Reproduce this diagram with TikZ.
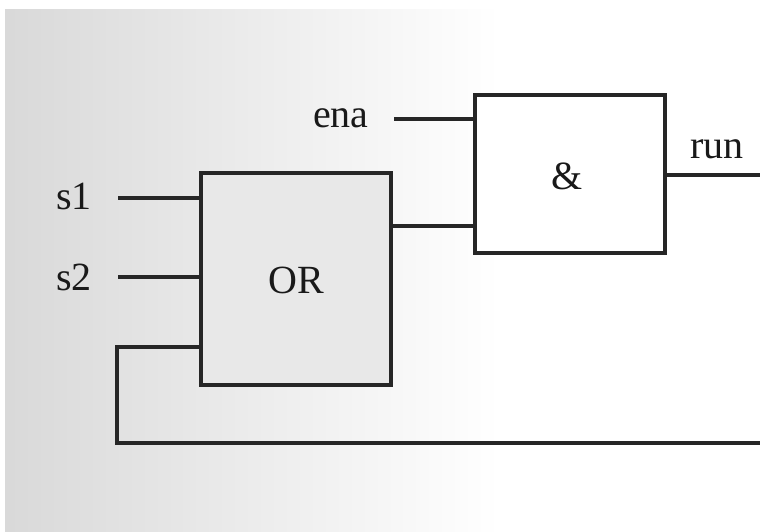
\documentclass[tikz,border=0pt]{standalone}
\usepackage{fontspec}
\setmainfont{Liberation Serif}
\begin{document}
\begin{tikzpicture}[x=1pt,y=-1pt,
  wire/.style={line width=4.2pt,draw=black!85},
  gate/.style={draw=black!85,line width=4.2pt,minimum width=190pt,inner sep=0pt},
  lbl/.style={font=\fontsize{40}{48}\selectfont,inner sep=0pt,text=black!90}]
\useasboundingbox (0,0) rectangle (760,532);
\fill[white] (0,0) rectangle (760,532);
\shade[left color=black!15,right color=white] (5,10) rectangle (500,532);
% gates
\node[gate,fill=black!9,minimum height=212pt,anchor=north west] (or) at (199,171) {};
\node[lbl] at (296,280) {OR};
\node[gate,fill=white,minimum height=158pt,anchor=north west] (and) at (473,93) {};
\node[lbl] at (567,176) {\&};
% labels
\node[lbl,anchor=base west] (s1) at (56,209) {s1};
\node[lbl,anchor=base west] (s2) at (56,290) {s2};
\node[lbl,anchor=base west] (ena) at (313,128) {ena};
\node[lbl,anchor=base west] (run) at (690,158) {run};
% coordinates
\coordinate (s1e) at (118,198);
\coordinate (s2e) at (118,277);
\coordinate (enae) at (394,119);
\coordinate (oro) at (300,226);
\coordinate (rune) at (762,175);
\coordinate (fbr) at (762,443);
\coordinate (fbl) at (117,443);
\coordinate (fbt) at (117,347);
% wires
\draw[wire] (s1e) -- (s1e -| or.west);
\draw[wire] (s2e) -- (s2e -| or.west);
\draw[wire] (enae) -- (enae -| and.west);
\draw[wire] (oro -| or.east) -- (oro -| and.west);
\draw[wire] (rune -| and.east) -- (rune);
\draw[wire] (fbr) -- (fbl) -- (fbt) -- (fbt -| or.west);
\end{tikzpicture}
\end{document}
